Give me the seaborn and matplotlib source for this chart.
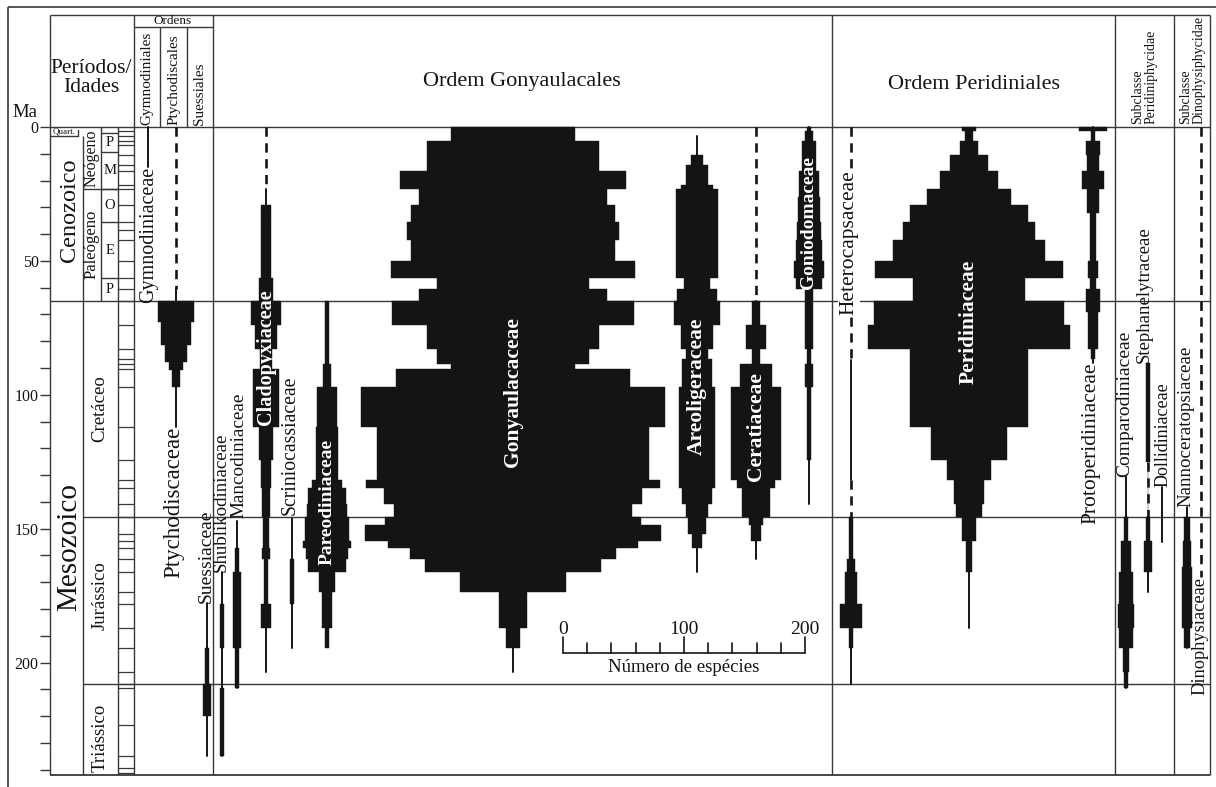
import numpy as np
import matplotlib
matplotlib.use("Agg")
import matplotlib.pyplot as plt
import seaborn as sns

sns.set_style("white")
plt.rcParams["font.family"] = ["Liberation Serif", "DejaVu Serif"]

INK = "#141414"
GRID = "#383838"

# ---------------- time scale (Ma, GTS89) ----------------
stage_bounds = [1.64, 3.4, 5.2, 6.7, 10.4, 14.2, 16.3, 21.5, 23.3, 29.3, 35.4, 38.6,
                42.1, 50.0, 56.5, 60.5, 65.0, 74.0, 83.0, 86.6, 88.5, 90.4, 97.0,
                112.0, 124.5, 131.8, 135.0, 140.7, 145.6, 152.1, 154.7, 157.1, 161.3,
                166.1, 173.5, 178.0, 187.0, 194.5, 203.5, 208.0, 209.5, 223.4, 235.0,
                239.5, 241.1]
epoch_edges = [2.2, 9.2, 23.3, 35.4, 56.5, 65.0]
epoch_names = ["P", "M", "O", "E", "P"]
era_bounds = [65.0, 145.6, 208.0]

# ---------------- species counts per time bin ----------------
gony_edges = [0, 5.2, 16.3, 23.3, 29.3, 35.4, 42.1, 50.0, 56.5, 60.5, 65.0, 74.0, 83.0,
              88.5, 90.4, 97.0, 112.0, 131.8, 135.0, 140.7, 145.6, 148.5, 154.7, 157.1,
              161.3, 166.1, 173.5, 187.0, 194.5]
gony_counts = [102, 142, 186, 155, 169, 175, 169, 202, 126, 155, 200, 142, 126, 103, 194,
               251, 225, 243, 213, 197, 211, 244, 207, 170, 145, 88, 23, 12]

areo_edges = [10.4, 14.2, 21.5, 23.3, 56.5, 60.5, 65.0, 74.0, 83.0, 86.6, 97.0, 135.0,
              140.7, 145.6, 152.1, 157.1]
areo_counts = [10, 18, 26, 34, 22, 33, 38, 26, 19, 24, 29, 25, 18, 15, 8]

cera_edges = [65.0, 74.0, 83.0, 88.5, 97.0, 131.8, 135.0, 145.6, 148.5, 154.7]
cera_counts = [7, 16, 7, 27, 41, 31, 23, 12, 9]

gonio_edges = [0, 1.64, 5.2, 16.3, 26.0, 35.4, 42.1, 50.0, 56.5, 60.5, 74.0, 83.0, 88.5,
               97.0, 124.5]
gonio_counts = [3, 7, 11, 16, 18, 20, 22, 25, 21, 6, 7, 3, 6, 4]

peri_edges = [0, 1.64, 5.2, 10.4, 16.3, 23.3, 29.3, 35.4, 42.1, 50.0, 56.5, 65.0, 74.0,
              83.0, 112.0, 124.5, 131.8, 140.7, 145.6, 154.7, 166.1]
peri_counts = [12, 7, 15, 31, 48, 70, 98, 109, 126, 155, 93, 157, 167, 97, 62, 37, 25,
               21, 12, 5]

proto_edges = [0, 1.64, 5.2, 10.4, 16.3, 23.3, 32.0, 50.0, 56.5, 60.5, 69.0, 83.0, 86.6]
proto_counts = [23, 4, 12, 10, 18, 10, 5, 8, 5, 11, 8, 4]

hetero_edges = [145.6, 149.3, 154.7, 157.1, 161.3, 166.1, 178.0, 187.0, 194.5]
hetero_counts = [2.5, 4, 2.5, 4, 7, 10, 18, 3]

ptycho_edges = [65.0, 72.8, 81.3, 87.7, 90.7, 97.0]
ptycho_counts = [30, 25, 18, 12, 7]

suess_edges = [194.5, 208.0, 220.0]
suess_counts = [4, 7]

shub_edges = [178.0, 194.5, 209.5, 235.0]
shub_counts = [3.5, 0, 3.5]

manco_edges = [157.1, 166.1, 194.5, 209.5]
manco_counts = [2.5, 6, 3.5]

scrin_edges = [161.3, 178.0]
scrin_counts = [2.5]

pareo_edges = [65.0, 88.5, 97.0, 112.0, 131.8, 135.0, 140.7, 145.6, 154.7, 157.1, 161.3,
               166.1, 173.5, 187.0, 194.5]
pareo_counts = [2.5, 7, 17, 19, 25, 31, 33, 36, 39, 34, 31, 14, 9, 4]

clado_edges = [29.3, 35.4, 56.5, 65.0, 74.0, 83.0, 90.4, 112.0, 124.5, 135.0, 145.6,
               157.1, 161.3, 178.0, 187.0]
clado_counts = [9, 7.5, 11.5, 25, 19, 10, 22, 12, 9, 7, 5, 7, 4, 7.5]

compar_edges = [145.6, 154.7, 166.1, 178.0, 187.0, 194.5, 203.5, 209.5]
compar_counts = [3.3, 8, 12, 14, 11, 5, 2.5]

steph_edges = [88.0, 125.0, 145.6, 154.7, 166.1]
steph_counts = [2.5, 0, 4, 6]

nanno_edges = [145.6, 154.7, 164.2, 173.5, 187.0, 194.5]
nanno_counts = [5, 6, 8, 9, 5]

# (name, edges, counts, solid ranges, dashed ranges)
families = [
    ("Gymnodiniaceae", [], [], [(0, 15.0)], []),
    ("Ptychodiscaceae", ptycho_edges, ptycho_counts, [(60.5, 112.0)], [(0, 60.5)]),
    ("Suessiaceae", suess_edges, suess_counts, [(177.6, 235.0)], []),
    ("Shublikodiniaceae", shub_edges, shub_counts, [(166.1, 235.0)], []),
    ("Mancodiniaceae", manco_edges, manco_counts, [(147.0, 209.5)], []),
    ("Cladopyxiaceae", clado_edges, clado_counts, [(23.3, 203.5)], [(0, 23.3)]),
    ("Scriniocassiaceae", scrin_edges, scrin_counts, [(146.0, 194.5)], []),
    ("Pareodiniaceae", pareo_edges, pareo_counts, [], []),
    ("Gonyaulacaceae", gony_edges, gony_counts, [(194.5, 203.5)], []),
    ("Areoligeraceae", areo_edges, areo_counts, [(3.4, 166.1)], []),
    ("Ceratiaceae", cera_edges, cera_counts, [(65.0, 161.3)], [(0, 65.0)]),
    ("Goniodomaceae", gonio_edges, gonio_counts, [(0, 140.7)], []),
    ("Heterocapsaceae", hetero_edges, hetero_counts, [(87.0, 131.8), (145.6, 208.0)],
     [(0, 87.0), (131.8, 145.6)]),
    ("Peridiniaceae", peri_edges, peri_counts, [(166.1, 187.0)], []),
    ("Protoperidiniaceae", proto_edges, proto_counts, [(0, 88.0)], []),
    ("Comparodiniaceae", compar_edges, compar_counts, [(130.6, 209.5)], []),
    ("Stephanelytraceae", steph_edges, steph_counts, [(145.6, 173.5)], [(125.0, 145.6)]),
    ("Dollidiniaceae", [], [], [(134.3, 155.0)], []),
    ("Nannoceratopsiaceae", nanno_edges, nanno_counts, [(141.8, 194.5)], []),
    ("Dinophysiaceae", [], [], [], [(0, 168.0)]),
]

# ---------------- layout (reference pixel columns) ----------------
PX_PER_SP = 1.21      # pixels per species (scale bar)
PX_PER_MA = 2.678
centre_px = {
    "Gymnodiniaceae": 148, "Ptychodiscaceae": 176, "Suessiaceae": 207,
    "Shublikodiniaceae": 222, "Mancodiniaceae": 237, "Cladopyxiaceae": 266,
    "Scriniocassiaceae": 292, "Pareodiniaceae": 327, "Gonyaulacaceae": 513,
    "Areoligeraceae": 697, "Ceratiaceae": 756, "Goniodomaceae": 809,
    "Heterocapsaceae": 851, "Peridiniaceae": 969, "Protoperidiniaceae": 1093,
    "Comparodiniaceae": 1126, "Stephanelytraceae": 1148, "Dollidiniaceae": 1162,
    "Nannoceratopsiaceae": 1187, "Dinophysiaceae": 1201,
}


def X(px):
    return (px - 50) / PX_PER_SP


def Y(py):
    return (py - 127) / PX_PER_MA


fig = plt.figure(figsize=(12.16, 7.87), dpi=100)
ax = fig.add_axes([50 / 1216, 12 / 787, 1160 / 1216, 760 / 787])
ax.set_xlim(0, X(1210))
ax.set_ylim(242, Y(15))
for s in ax.spines.values():
    s.set_visible(False)


def hl(ma, x0, x1, lw=1.0):
    ax.plot([X(x0), X(x1)], [ma, ma], color=GRID, lw=lw, zorder=1, clip_on=False,
            solid_capstyle="butt")


def vl(xpx, m0, m1, lw=1.0):
    ax.plot([X(xpx), X(xpx)], [m0, m1], color=GRID, lw=lw, zorder=1, clip_on=False,
            solid_capstyle="butt")


# outer frame + table grid
hl(Y(7), 8, 1216, lw=1.2)
vl(8, Y(7), Y(787), lw=1.2)
hl(Y(15), 50, 1210)
hl(0, 50, 1210)
hl(242, 50, 1210, lw=1.3)
for xp in [50, 134, 213, 832, 1115, 1174, 1210]:
    vl(xp, Y(15), 242)
hl(Y(27), 134, 213)
vl(160, Y(27), 0)
vl(187, Y(27), 0)
vl(83, 3.2, 242)
vl(118, 0, 242)
vl(101, 0, 65)
hl(era_bounds[0], 50, 1210)
for b in era_bounds[1:]:
    hl(b, 83, 1210)
hl(23.3, 83, 118)
for b in epoch_edges[:-1]:
    hl(b, 101, 118)
for b in stage_bounds:
    hl(b, 118, 134, lw=0.9)
# Quaternary box
ax.plot([X(50), X(78), X(78)], [3.2, 3.2, 1.0], color=GRID, lw=1, clip_on=False)
ax.text(X(64), 1.6, "Quart.", fontsize=6.5, ha="center", va="center", color=INK)

# y ticks (Ma)
ticks = np.arange(0, 241, 10)
ax.set_yticks(ticks)
ax.set_yticklabels([str(t) if t % 50 == 0 else "" for t in ticks])
ax.tick_params(axis="y", length=7.2, width=1, color=GRID, labelsize=11.5, pad=1,
               left=True, labelcolor=INK)
ax.set_xticks([])

# spindles
for name, edges, counts, solid, dashed in families:
    xc = X(centre_px[name])
    for a, b in solid:
        ax.plot([xc, xc], [a, b], color=INK, lw=1.4, zorder=2)
    for a, b in dashed:
        ax.plot([xc, xc], [a, b], color=INK, lw=1.9, zorder=2,
                linestyle=(0, (3.5, 2.5)))
    if len(counts):
        e = np.asarray(edges, float)
        c = np.asarray(counts, float)
        ax.barh((e[:-1] + e[1:]) / 2, c, height=np.diff(e), left=xc - c / 2,
                color=INK, edgecolor=INK, linewidth=0.3, zorder=3)

# white labels inside spindles
inside = [("Cladopyxiaceae", 86.0, 14.5), ("Pareodiniaceae", 140.0, 14),
          ("Gonyaulacaceae", 99.0, 15.5), ("Areoligeraceae", 97.0, 15.5),
          ("Ceratiaceae", 112.0, 15.5), ("Goniodomaceae", 35.5, 14),
          ("Peridiniaceae", 72.8, 15.5)]
for name, ma, fs in inside:
    ax.text(X(centre_px[name]), ma, name, rotation=90, ha="center", va="center",
            color="white", fontweight="bold", fontsize=fs, zorder=5)

# black labels next to ranges: (name, x px, anchor Ma, va, size)
outside = [("Gymnodiniaceae", 149, 15.0, "top", 14.5),
           ("Ptychodiscaceae", 174, 112.0, "top", 16.5),
           ("Suessiaceae", 206, 177.6, "bottom", 14.0),
           ("Shublikodiniaceae", 221, 166.1, "bottom", 13.6),
           ("Mancodiniaceae", 239, 146.0, "bottom", 13.8),
           ("Scriniocassiaceae", 290, 145.0, "bottom", 14.2),
           ("Protoperidiniaceae", 1091, 88.0, "top", 15.5),
           ("Comparodiniaceae", 1125, 130.6, "bottom", 14),
           ("Stephanelytraceae", 1144, 88.0, "bottom", 13.5),
           ("Dollidiniaceae", 1163, 134.3, "bottom", 13),
           ("Nannoceratopsiaceae", 1186, 141.8, "bottom", 13.7),
           ("Dinophysiaceae", 1200, 168.0, "top", 13.2)]
for name, xp, ma, va, fs in outside:
    ax.text(X(xp), ma, name, rotation=90, ha="center", va=va, color=INK,
            fontsize=fs, zorder=5)
ax.text(X(849), Y(243), "Heterocapsaceae", rotation=90, ha="center", va="center",
        color=INK, fontsize=15.5, zorder=5,
        bbox=dict(facecolor="white", edgecolor="none", pad=1))

# time-scale texts
ax.text(X(69), 31, "Cenozoico", rotation=90, ha="center", va="center", fontsize=17.5,
        color=INK)
ax.text(X(69), 157, "Mesozoico", rotation=90, ha="center", va="center", fontsize=21,
        color=INK)
ax.text(X(92), 11.6, "Neógeno", rotation=90, ha="center", va="center", fontsize=11.5,
        color=INK)
ax.text(X(92), 44, "Paleógeno", rotation=90, ha="center", va="center", fontsize=12,
        color=INK)
for (a, b), lab in zip(zip(epoch_edges[:-1], epoch_edges[1:]), epoch_names):
    ax.text(X(110), (a + b) / 2, lab, ha="center", va="center", fontsize=10.5,
            color=INK)
ax.text(X(100), 105, "Cretáceo", rotation=90, ha="center", va="center", fontsize=13.5,
        color=INK)
ax.text(X(100), 175, "Jurássico", rotation=90, ha="center", va="center",
        fontsize=13.5, color=INK)
ax.text(X(100), 228, "Triássico", rotation=90, ha="center", va="center",
        fontsize=13.5, color=INK)

# header texts
ax.text(X(25), Y(113), "Ma", ha="center", va="center", fontsize=13.5, color=INK,
        clip_on=False)
ax.text(X(91), Y(78), "Períodos/\nIdades", ha="center", va="center", fontsize=15.5,
        linespacing=0.95, color=INK)
ax.text(X(173), Y(21), "Ordens", ha="center", va="center", fontsize=9.5, color=INK)
for xp, lab in [(147, "Gymnodiniales"), (174, "Ptychodiscales"), (200, "Suessiales")]:
    ax.text(X(xp), Y(125), lab, rotation=90, ha="center", va="bottom", fontsize=11,
            color=INK)
ax.text(X(522), Y(82), "Ordem Gonyaulacales", ha="center", va="center", fontsize=16,
        color=INK)
ax.text(X(974), Y(85), "Ordem Peridiniales", ha="center", va="center", fontsize=16,
        color=INK)
ax.text(X(1144), Y(124), "Subclasse\nPeridiniphycidae", rotation=90, ha="center",
        va="bottom", fontsize=10, multialignment="left", linespacing=1.05, color=INK)
ax.text(X(1192), Y(124), "Subclasse\nDinophysiphycidae", rotation=90, ha="center",
        va="bottom", fontsize=10, multialignment="left", linespacing=1.05, color=INK)

# species scale bar
x0 = X(563)
yb = Y(653)
ax.plot([x0, x0 + 200], [yb, yb], color=INK, lw=1.2, zorder=4)
for v in range(0, 201, 20):
    top = yb - (6.0 if v % 100 == 0 else 3.7)
    ax.plot([x0 + v, x0 + v], [yb, top], color=INK, lw=1.2, zorder=4)
for v in (0, 100, 200):
    ax.text(x0 + v, Y(630), str(v), ha="center", va="center", fontsize=14, color=INK)
ax.text(x0 + 100, Y(668), "Número de espécies", ha="center", va="center",
        fontsize=13.5, color=INK)

fig.savefig("out.png", dpi=100, facecolor="white")
